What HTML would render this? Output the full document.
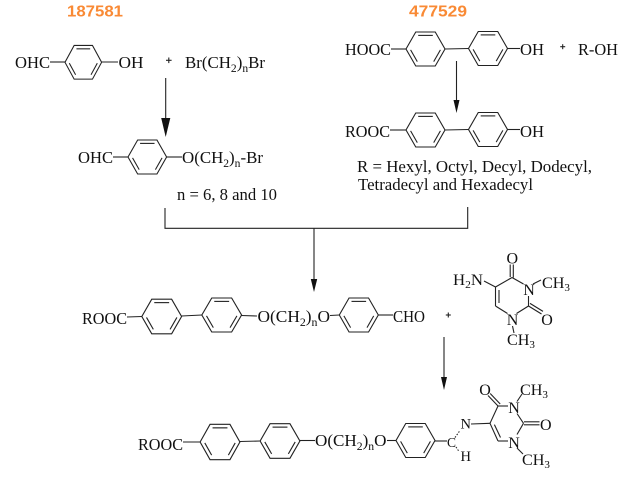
<!DOCTYPE html>
<html>
<head>
<meta charset="utf-8">
<style>
html,body{margin:0;padding:0;background:#fff;}
svg{display:block;}
text{font-family:"Liberation Serif",serif;fill:#111;}
.lab{font-family:"Liberation Sans",sans-serif;font-weight:bold;fill:#F98A35;font-size:16px;}
</style>
</head>
<body>
<svg width="629" height="479" viewBox="0 0 629 479" xmlns="http://www.w3.org/2000/svg">
<defs>
<g id="ring" fill="none" stroke="#222" stroke-width="1.1">
<polygon points="-19.5,0 -9.75,-17 9.75,-17 19.5,0 9.75,17 -9.75,17"/>
<line x1="-7.3" y1="-13.6" x2="7.3" y2="-13.6"/>
<line x1="14.9" y1="0.9" x2="8.2" y2="12.6"/>
<line x1="-14.9" y1="0.9" x2="-8.2" y2="12.6"/>
</g>
</defs>
<rect width="629" height="479" fill="#fff"/>

<!-- orange labels -->
<text class="lab" x="67" y="16.7" textLength="56" lengthAdjust="spacingAndGlyphs">187581</text>
<text class="lab" x="409" y="16.7" textLength="58" lengthAdjust="spacingAndGlyphs">477529</text>

<!-- rings -->
<use href="#ring" transform="translate(83.3,62.3) scale(0.94,0.99)"/>
<use href="#ring" transform="translate(147.3,157) scale(0.99,1)"/>
<use href="#ring" transform="translate(425.5,49)"/>
<use href="#ring" transform="translate(488,48.5)"/>
<use href="#ring" transform="translate(425.5,130)"/>
<use href="#ring" transform="translate(488,129.5)"/>
<use href="#ring" transform="translate(161.7,316.5) scale(1.02,1.02)"/>
<use href="#ring" transform="translate(221.7,315) scale(1.02,1)"/>
<use href="#ring" transform="translate(358.8,315)"/>
<use href="#ring" transform="translate(220,442) scale(1.02,1.04)"/>
<use href="#ring" transform="translate(280,441) scale(1.02,1.02)"/>
<use href="#ring" transform="translate(415.5,440.5)"/>

<!-- bonds, connectors -->
<g stroke="#222" stroke-width="1.1" fill="none">
<line x1="50" y1="62" x2="65" y2="62"/>
<line x1="101.6" y1="62" x2="118" y2="62"/>
<line x1="113" y1="157" x2="128" y2="157"/>
<line x1="166.6" y1="157" x2="182" y2="157"/>
<line x1="391" y1="49" x2="406" y2="49"/>
<line x1="445" y1="49" x2="468.5" y2="48.5"/>
<line x1="507.5" y1="48.5" x2="520" y2="48.5"/>
<line x1="390" y1="130" x2="406" y2="130"/>
<line x1="445" y1="130" x2="468.5" y2="129.5"/>
<line x1="507.5" y1="129.5" x2="520" y2="129.5"/>
<line x1="127" y1="317" x2="142" y2="316.5"/>
<line x1="181.5" y1="316" x2="202" y2="315"/>
<line x1="241.5" y1="315.5" x2="257" y2="316"/>
<line x1="330" y1="315.5" x2="339.3" y2="315"/>
<line x1="378.3" y1="315" x2="393" y2="315"/>
<line x1="183" y1="442" x2="200" y2="442"/>
<line x1="240" y1="441.5" x2="260" y2="441"/>
<line x1="300" y1="440.5" x2="315" y2="440.5"/>
<line x1="387" y1="440.5" x2="396" y2="440.5"/>
<line x1="435" y1="441" x2="447" y2="441"/>

<!-- bracket -->
<polyline points="165,208 165,228.3 467.7,228.3 467.7,207"/>

<!-- arrows shafts -->
<line x1="165.7" y1="78" x2="165.7" y2="120"/>
<line x1="456.5" y1="61" x2="456.5" y2="101"/>
<line x1="314" y1="228" x2="314" y2="280"/>
<line x1="444" y1="337" x2="444" y2="378"/>

<!-- plus signs -->
<line x1="166" y1="60.3" x2="171.6" y2="60.3"/>
<line x1="168.8" y1="57.5" x2="168.8" y2="63.1"/>
<line x1="560.2" y1="46.7" x2="565.2" y2="46.7"/>
<line x1="562.7" y1="44.2" x2="562.7" y2="49.2"/>
<line x1="445.8" y1="315" x2="450.8" y2="315"/>
<line x1="448.3" y1="312.5" x2="448.3" y2="317.5"/>

<!-- top uracil -->
<line x1="512" y1="277.5" x2="523.5" y2="284"/>
<line x1="528.5" y1="296" x2="528.5" y2="306"/>
<line x1="528.5" y1="306" x2="516.5" y2="313.5"/>
<line x1="507.5" y1="313.5" x2="495.5" y2="306"/>
<line x1="495.5" y1="306" x2="495.5" y2="287"/>
<line x1="499" y1="303" x2="499" y2="290"/>
<line x1="495.5" y1="287" x2="512" y2="277.5"/>
<line x1="510.2" y1="277" x2="510.2" y2="264.5"/>
<line x1="513.3" y1="277.5" x2="513.3" y2="264.5"/>
<line x1="495.5" y1="287" x2="484" y2="281"/>
<line x1="533" y1="284" x2="541" y2="280"/>
<line x1="528.5" y1="306" x2="541.5" y2="314"/>
<line x1="530" y1="303.4" x2="543" y2="311.4"/>
<line x1="512.5" y1="326" x2="514" y2="333"/>

<!-- bottom uracil -->
<line x1="490" y1="423.3" x2="498" y2="406"/>
<line x1="498" y1="406" x2="508" y2="406"/>
<line x1="517" y1="413.5" x2="523.5" y2="423.3"/>
<line x1="523.5" y1="423.3" x2="517" y2="434.5"/>
<line x1="508" y1="441" x2="498" y2="441"/>
<line x1="498" y1="441" x2="490" y2="423.3"/>
<line x1="494.4" y1="424.6" x2="500.5" y2="437.5"/>
<line x1="498" y1="406" x2="488" y2="395.5"/>
<line x1="500.2" y1="404" x2="490.2" y2="393.5"/>
<line x1="517" y1="401.5" x2="522" y2="394"/>
<line x1="524" y1="421.8" x2="539.5" y2="421.8"/>
<line x1="524" y1="424.8" x2="539.5" y2="424.8"/>
<line x1="517" y1="448" x2="523" y2="454"/>
<line x1="471" y1="424" x2="490" y2="423.3"/>
<line x1="455" y1="437.5" x2="460" y2="430.5" stroke-dasharray="1.5 1.5"/>
<line x1="456" y1="447" x2="459" y2="451.5" stroke-dasharray="1.5 1.5"/>
</g>

<!-- arrowheads -->
<g fill="#111">
<polygon points="161.2,118 170.3,118 165.7,137"/>
<polygon points="453.5,100 459.5,100 456.5,113"/>
<polygon points="310.8,279 317.2,279 314,292"/>
<polygon points="441,377 447,377 444,390"/>
</g>

<!-- labels -->
<g font-size="16.8">
<text x="15" y="68" textLength="35" lengthAdjust="spacingAndGlyphs">OHC</text>
<text x="118.5" y="68" textLength="25" lengthAdjust="spacingAndGlyphs">OH</text>
<text x="185" y="68" textLength="80" lengthAdjust="spacingAndGlyphs">Br(CH<tspan font-size="11.5" dy="4">2</tspan><tspan dy="-4">)</tspan><tspan font-size="11.5" dy="4">n</tspan><tspan dy="-4">Br</tspan></text>

<text x="78" y="163" textLength="35" lengthAdjust="spacingAndGlyphs">OHC</text>
<text x="182" y="163" textLength="81" lengthAdjust="spacingAndGlyphs">O(CH<tspan font-size="11.5" dy="4">2</tspan><tspan dy="-4">)</tspan><tspan font-size="11.5" dy="4">n</tspan><tspan dy="-4">-Br</tspan></text>
<text x="177" y="200" textLength="100" lengthAdjust="spacingAndGlyphs">n = 6, 8 and 10</text>

<text x="345" y="55" textLength="46" lengthAdjust="spacingAndGlyphs">HOOC</text>
<text x="520" y="55" textLength="24" lengthAdjust="spacingAndGlyphs">OH</text>
<text x="578" y="55" textLength="40" lengthAdjust="spacingAndGlyphs">R-OH</text>

<text x="345" y="137" textLength="45" lengthAdjust="spacingAndGlyphs">ROOC</text>
<text x="520" y="137" textLength="24" lengthAdjust="spacingAndGlyphs">OH</text>
<text x="357" y="172" textLength="235" lengthAdjust="spacingAndGlyphs">R = Hexyl, Octyl, Decyl, Dodecyl,</text>
<text x="358" y="190" textLength="175" lengthAdjust="spacingAndGlyphs">Tetradecyl and Hexadecyl</text>

<text x="82" y="324" textLength="45" lengthAdjust="spacingAndGlyphs">ROOC</text>
<text x="257.5" y="322" textLength="72.5" lengthAdjust="spacingAndGlyphs">O(CH<tspan font-size="11.5" dy="4">2</tspan><tspan dy="-4">)</tspan><tspan font-size="11.5" dy="4">n</tspan><tspan dy="-4">O</tspan></text>
<text x="393" y="322" textLength="32" lengthAdjust="spacingAndGlyphs">CHO</text>

<text x="138" y="450" textLength="45" lengthAdjust="spacingAndGlyphs">ROOC</text>
<text x="315" y="446" textLength="71.5" lengthAdjust="spacingAndGlyphs">O(CH<tspan font-size="11.5" dy="4">2</tspan><tspan dy="-4">)</tspan><tspan font-size="11.5" dy="4">n</tspan><tspan dy="-4">O</tspan></text>
</g>

<g font-size="16">
<text x="453" y="285" textLength="30" lengthAdjust="spacingAndGlyphs">H<tspan font-size="11" dy="3">2</tspan><tspan dy="-3">N</tspan></text>
<text x="506.5" y="263.5">O</text>
<text x="523.2" y="295">N</text>
<text x="542" y="288" textLength="28" lengthAdjust="spacingAndGlyphs">CH<tspan font-size="11" dy="3">3</tspan></text>
<text x="541.3" y="325">O</text>
<text x="506.7" y="325">N</text>
<text x="507" y="345" textLength="28" lengthAdjust="spacingAndGlyphs">CH<tspan font-size="11" dy="3">3</tspan></text>

<text x="479.3" y="395">O</text>
<text x="508.3" y="413">N</text>
<text x="520" y="395" textLength="28" lengthAdjust="spacingAndGlyphs">CH<tspan font-size="11" dy="3">3</tspan></text>
<text x="540" y="430">O</text>
<text x="508.3" y="448">N</text>
<text x="522" y="465" textLength="28" lengthAdjust="spacingAndGlyphs">CH<tspan font-size="11" dy="3">3</tspan></text>
<text x="460.5" y="428.5" font-size="14.5">N</text>
<text x="447" y="447" font-size="13.5" fill="#333">C</text>
<text x="460.5" y="461" font-size="14.5">H</text>
</g>
</svg>
</body>
</html>
